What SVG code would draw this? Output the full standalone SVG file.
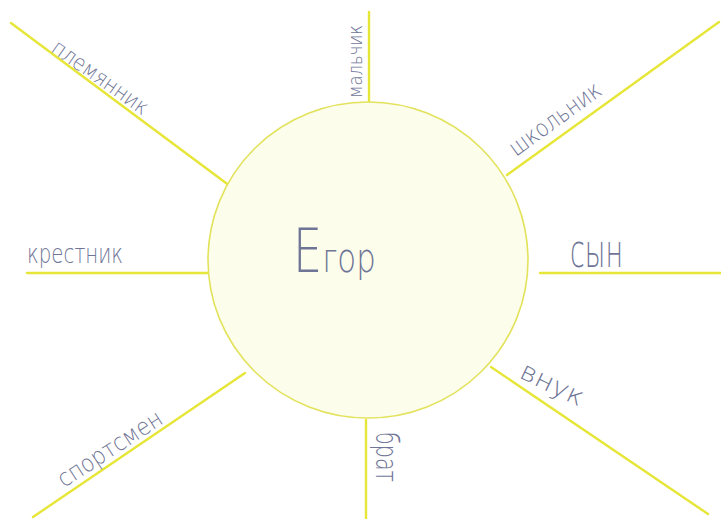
<svg xmlns="http://www.w3.org/2000/svg" width="721" height="519" viewBox="0 0 721 519">
<style>
.ray{stroke:#e6e638;stroke-width:2.4;stroke-linecap:round;fill:none}
.lbl{font-family:"DejaVu Sans","Liberation Sans",sans-serif;font-weight:200;fill:#6f7596}
</style>
<rect width="721" height="519" fill="#ffffff"/>
<g id="connectors">
<line class="ray" x1="11" y1="23" x2="234" y2="189"/>
<line class="ray" x1="369" y1="12" x2="369" y2="102"/>
<line class="ray" x1="507" y1="175" x2="719" y2="22"/>
<line class="ray" x1="27" y1="273" x2="208" y2="273"/>
<line class="ray" x1="540" y1="273" x2="721" y2="273"/>
<line class="ray" x1="245" y1="373" x2="33" y2="517"/>
<line class="ray" x1="366" y1="420" x2="366" y2="519"/>
<line class="ray" x1="491" y1="367" x2="708" y2="514"/>
</g>
<g id="egor">
<ellipse cx="368" cy="260" rx="160" ry="158" fill="#fdfdec" stroke="#e2e25c" stroke-width="1.6"/>
<text class="lbl" font-size="40" transform="translate(293,272) scale(0.77,1)"><tspan font-size="60">Е</tspan>гор</text>
</g>
<g id="plemyannik"><text class="lbl" font-size="22" textLength="113" lengthAdjust="spacingAndGlyphs" transform="translate(50,51) rotate(35)">племянник</text></g>
<g id="malchik"><text class="lbl" font-size="19" textLength="73" lengthAdjust="spacingAndGlyphs" transform="translate(362,98) rotate(-90)">мальчик</text></g>
<g id="shkolnik"><text class="lbl" font-size="24" textLength="108" lengthAdjust="spacingAndGlyphs" transform="translate(516,157) rotate(-36)">школьник</text></g>
<g id="krestnik"><text class="lbl" x="27" y="263" font-size="26" textLength="96" lengthAdjust="spacingAndGlyphs">крестник</text></g>
<g id="syn"><text class="lbl" x="570" y="267" font-size="46" textLength="53" lengthAdjust="spacingAndGlyphs">сын</text></g>
<g id="sportsmen"><text class="lbl" font-size="24" textLength="120" lengthAdjust="spacingAndGlyphs" transform="translate(64,488) rotate(-33)">спортсмен</text></g>
<g id="brat"><text class="lbl" font-size="30" textLength="50" lengthAdjust="spacingAndGlyphs" transform="translate(376,432) rotate(90)">брат</text></g>
<g id="vnuk"><text class="lbl" font-size="26" textLength="68" lengthAdjust="spacingAndGlyphs" transform="translate(518,377) rotate(26)">внук</text></g>
</svg>
